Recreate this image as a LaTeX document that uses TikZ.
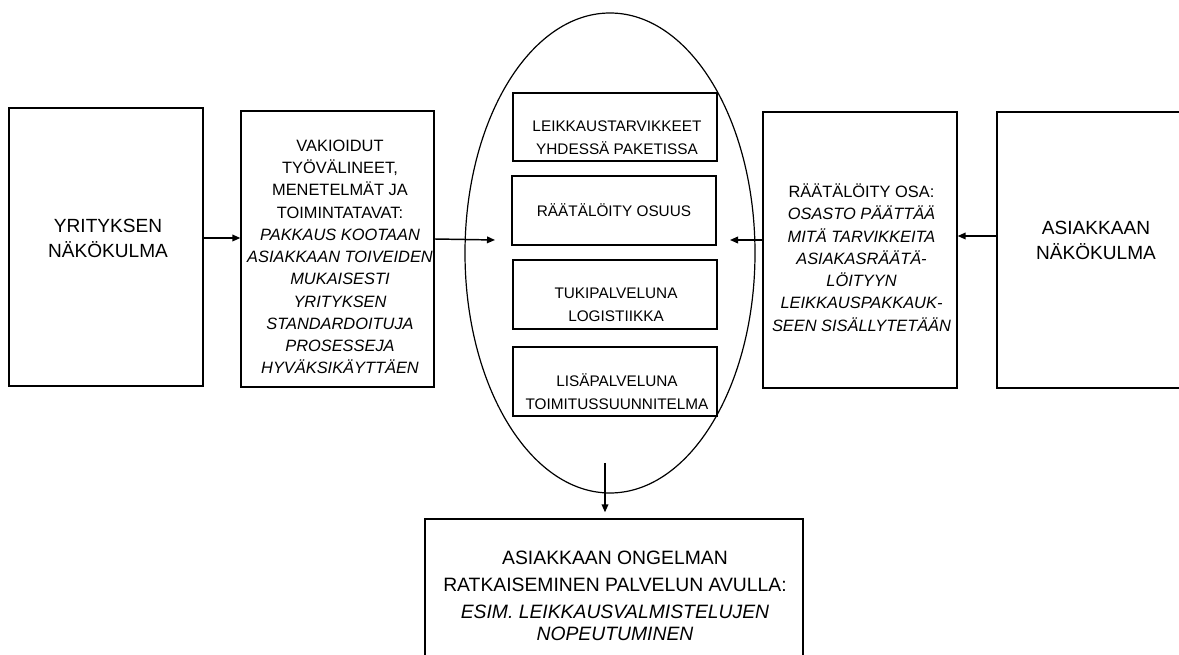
\documentclass[tikz,border=0pt]{standalone}
\usepackage{fontspec}
\setmainfont{Liberation Sans}
\usetikzlibrary{shapes.geometric,arrows.meta}
% lengths below are given in drawing units (1 unit = 0.75pt)
\newcommand\pxl[1]{#1*0.75pt}
\begin{document}
\begin{tikzpicture}[x=0.75pt,y=-0.75pt,
  frame/.style={draw, line width=1pt, inner sep=0pt},
  txt/.style={align=center, inner sep=0pt},
  arr/.style={-{Triangle[length=6pt,width=5pt]}, line width=1.1pt},
  bigfont/.style={font=\fontsize{14.3}{18.75}\selectfont},
  midfont/.style={font=\fontsize{12.3}{16.7}\selectfont},
  smallfont/.style={font=\fontsize{11.5}{17.4}\selectfont},
  lowfont/.style={font=\fontsize{14.5}{20.2}\selectfont},
]
\useasboundingbox (0,0) rectangle (1179,655);

% central service offering
\node[ellipse, draw, line width=0.9pt, inner sep=0pt,
      minimum width=\pxl{290}, minimum height=\pxl{480}] (ell) at (610,253) {};

\node[frame, minimum width=\pxl{204}, minimum height=\pxl{68}] (pa) at (615,127) {};
\node[frame, minimum width=\pxl{204}, minimum height=\pxl{69}] (pb) at (614,210.5) {};
\node[frame, minimum width=\pxl{204}, minimum height=\pxl{69}] (pc) at (615,294.5) {};
\node[frame, minimum width=\pxl{204}, minimum height=\pxl{69}] (pd) at (615,381.5) {};

\node[txt, smallfont] (ta) at (617,138) {LEIKKAUSTARVIKKEET\\YHDESSÄ PAKETISSA};
\node[txt, smallfont] (tb) at (614,210.5) {RÄÄTÄLÖITY OSUUS};
\node[txt, smallfont] (tc) at (616,305) {TUKIPALVELUNA\\LOGISTIIKKA};
\node[txt, smallfont] (td) at (617,392) {LISÄPALVELUNA\\TOIMITUSSUUNNITELMA};

% side boxes
\node[frame, minimum width=\pxl{194}, minimum height=\pxl{278}] (b1) at (106,247) {};
\node[frame, minimum width=\pxl{193}, minimum height=\pxl{276}] (b2) at (337.5,249) {};
\node[frame, minimum width=\pxl{194}, minimum height=\pxl{276}] (b3) at (860,250) {};
\node[frame, minimum width=\pxl{196}, minimum height=\pxl{276}] (b4) at (1095,250) {};
\node[frame, minimum width=\pxl{378}, minimum height=\pxl{152}] (b5) at (614,595) {};

\node[txt, bigfont] (t1) at (108,238) {YRITYKSEN\\NÄKÖKULMA};
\node[txt, midfont] (t2) at (340,257) {VAKIOIDUT\\TYÖVÄLINEET,\\MENETELMÄT JA\\TOIMINTATAVAT:\\
  \textit{PAKKAUS KOOTAAN}\\\textit{ASIAKKAAN TOIVEIDEN}\\\textit{MUKAISESTI}\\\textit{YRITYKSEN}\\
  \textit{STANDARDOITUJA}\\\textit{PROSESSEJA}\\\textit{HYVÄKSIKÄYTTÄEN}};
\node[txt, midfont] (t3) at (861.5,257.5) {RÄÄTÄLÖITY OSA:\\\textit{OSASTO PÄÄTTÄÄ}\\
  \textit{MITÄ TARVIKKEITA}\\\textit{ASIAKASRÄÄTÄ-}\\\textit{LÖITYYN}\\
  \textit{LEIKKAUSPAKKAUK-}\\\textit{SEEN SISÄLLYTETÄÄN}};
\node[txt, bigfont] (t4) at (1096,240) {ASIAKKAAN\\NÄKÖKULMA};
\node[txt, lowfont] (t5) at (615,596) {ASIAKKAAN ONGELMAN\\RATKAISEMINEN PALVELUN AVULLA:\\
  \textit{ESIM. LEIKKAUSVALMISTELUJEN}\\[-3.5pt]\textit{NOPEUTUMINEN}};

% connectors
\coordinate (inL) at (495,240);
\coordinate (inR) at (730,240);
\coordinate (outE) at (605,463);

\draw[arr] (b1.east |- 0,238) -- (b2.west |- 0,238);
\draw[arr] (b2.east |- 0,239) -- (inL);
\draw[arr] (b4.west |- 0,236) -- (b3.east |- 0,236);
\draw[arr] (b3.west |- 0,240) -- (inR);
\draw[arr, shorten >=4.5pt] (outE) -- (outE |- b5.north);
\end{tikzpicture}
\end{document}
